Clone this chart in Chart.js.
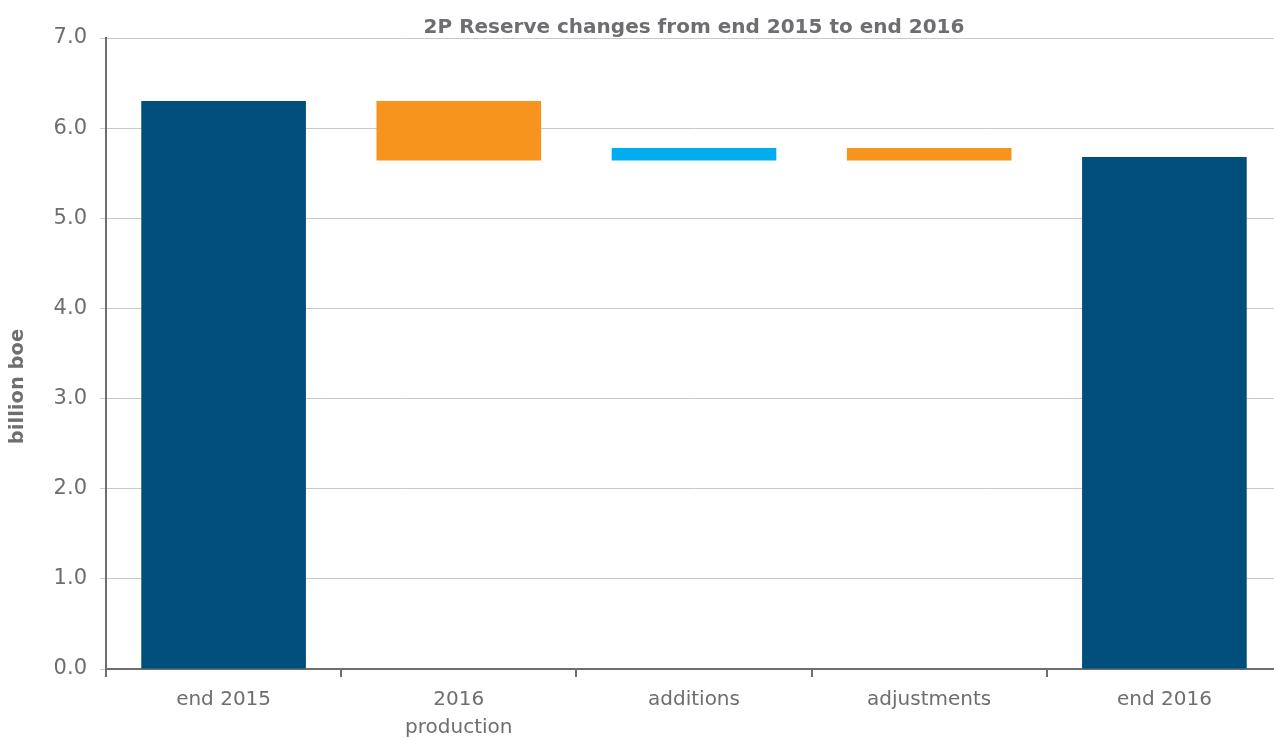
<!DOCTYPE html>
<html>
<head>
<meta charset="utf-8">
<script src="https://cdn.jsdelivr.net/npm/chart.js@4"></script>
<style>
  html, body { margin: 0; padding: 0; background: #fff; overflow: hidden; }
  #wrap { position: relative; width: 1290px; height: 740px; }
</style>
</head>
<body>
<div id="wrap"><canvas id="c"></canvas></div>
<script>
const categories = ['end 2015', ['2016', 'production'], 'additions', 'adjustments', 'end 2016'];
const barBottoms = [0, 5.64, 5.64, 5.64, 0];
const barTops = [6.30, 6.30, 5.78, 5.78, 5.68];
const barColors = ['#004e7c', '#f7941d', '#00aeef', '#f7941d', '#004e7c'];
const yTicks = [0, 1, 2, 3, 4, 5, 6, 7];
const yAxisTitle = 'billion boe';

const textGrey = '#6d6e71';
const fontFamily = '"DejaVu Sans", "Liberation Sans", Arial, sans-serif';

// Draws the y-axis title (rotated), placed like the reference
const yTitlePlugin = {
  id: 'yTitle',
  afterDraw(chart) {
    const ctx = chart.ctx;
    const area = chart.chartArea;
    ctx.save();
    ctx.translate(18, (area.top + area.bottom) / 2 + 33);
    ctx.rotate(-Math.PI / 2);
    ctx.fillStyle = textGrey;
    ctx.font = 'bold 19.5px ' + fontFamily;
    ctx.textAlign = 'center';
    ctx.textBaseline = 'middle';
    ctx.fillText(yAxisTitle, 0, 0);
    ctx.restore();
  }
};

new Chart(document.getElementById('c'), {
  type: 'bar',
  data: {
    labels: categories,
    datasets: [{
      data: barBottoms.map((b, i) => [b, barTops[i]]),
      backgroundColor: barColors,
      borderWidth: 0,
      barPercentage: 0.7,
      categoryPercentage: 1.0
    }]
  },
  plugins: [yTitlePlugin],
  options: {
    responsive: true,
    maintainAspectRatio: false,
    animation: false,
    layout: { padding: { left: 0, right: 8, top: 0, bottom: 0 } },
    plugins: {
      legend: { display: false },
      tooltip: { enabled: false },
      title: {
        display: true,
        text: '2P Reserve changes from end 2015 to end 2016',
        color: textGrey,
        fullSize: false,
        font: { family: fontFamily, size: 20, weight: 'bold', lineHeight: 1.0 },
        padding: { top: 18, bottom: 0 }
      }
    },
    scales: {
      x: {
        afterFit: (scale) => { scale.height = 71; },
        grid: {
          offset: true,
          drawOnChartArea: false,
          drawTicks: true,
          tickLength: 8,
          color: textGrey,
          lineWidth: 2
        },
        border: { color: textGrey, width: 2 },
        ticks: {
          color: textGrey,
          font: { family: fontFamily, size: 20, lineHeight: 1.4 },
          padding: 9,
          maxRotation: 0
        }
      },
      y: {
        min: 0,
        max: 7,
        afterBuildTicks: (scale) => { scale.ticks = yTicks.map(v => ({ value: v })); },
        afterFit: (scale) => { scale.width = 106; },
        grid: {
          color: '#c8c8c8',
          lineWidth: 1,
          tickLength: 6
        },
        border: { color: textGrey, width: 2 },
        ticks: {
          color: textGrey,
          font: { family: fontFamily, size: 21 },
          padding: 13,
          callback: (v) => Number(v).toFixed(1)
        },
        title: { display: false }
      }
    }
  }
});
</script>
</body>
</html>
